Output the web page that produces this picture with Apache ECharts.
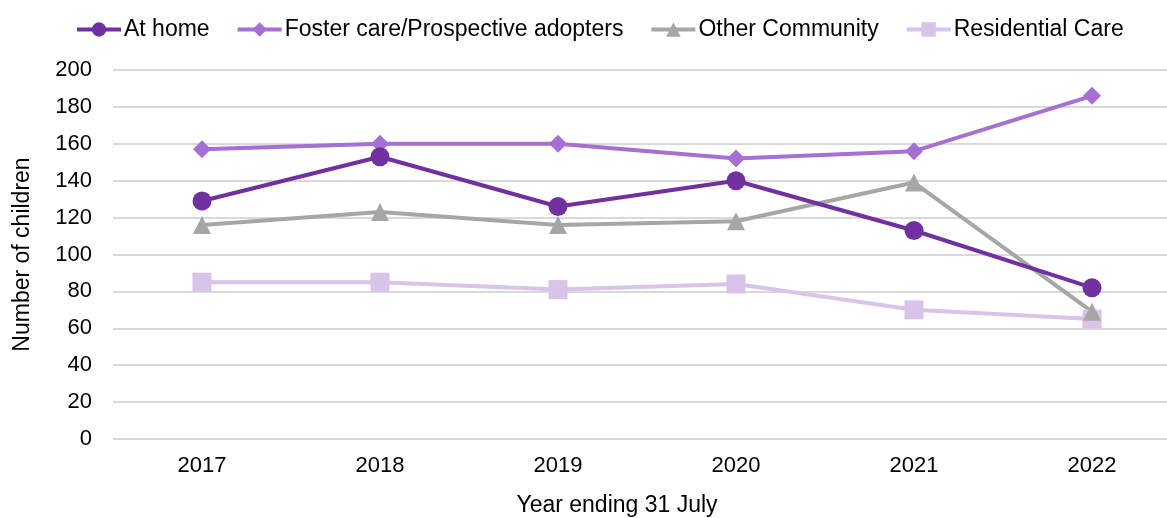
<!DOCTYPE html>
<html><head><meta charset="utf-8">
<script src="https://cdn.jsdelivr.net/npm/echarts@6/dist/echarts.min.js"></script>
<style>html,body{margin:0;padding:0;background:#fff}#c{width:1167px;height:518px}</style>
</head><body><div id="c"></div>
<script>
const categories = ['2017','2018','2019','2020','2021','2022'];
const atHome = [129, 153, 126, 140, 113, 82];
const foster = [157, 160, 160, 152, 156, 186];
const otherCommunity = [116, 123, 116, 118, 139, 69];
const residential = [85, 85, 81, 84, 70, 65];
const seriesNames = ['At home','Foster care/Prospective adopters','Other Community','Residential Care'];

const font = 'Liberation Sans, Arial, sans-serif';
function mk(name, data, color, symbol, size){
  return {name, type:'line', data, symbol, symbolSize:size,
    lineStyle:{color, width:4}, itemStyle:{color}, z: 2};
}
const chart = echarts.init(document.getElementById('c'));
chart.setOption({
  animation:false,
  textStyle:{fontFamily:font},
  legend:{top:13, left:70, itemWidth:44, itemHeight:18, itemGap:26,
    lineStyle:{width:4},
    textStyle:{fontSize:23, color:'#000', fontFamily:font, padding:[0,0,0,-2]}, data:seriesNames},
  grid:{left:113, width:1068, top:70, bottom:79, outerBoundsMode:'none', containLabel:false},
  xAxis:{type:'category', data:categories, boundaryGap:true,
    axisLine:{show:false}, axisTick:{show:false},
    axisLabel:{fontSize:22, color:'#000', margin:16},
    name:'Year ending 31 July', nameLocation:'middle', nameGap:55,
    nameTextStyle:{fontSize:23, color:'#000', padding:[0,60,0,0]}},
  yAxis:{type:'value', min:0, max:200, interval:20,
    axisLabel:{fontSize:22, color:'#000', margin:21},
    splitLine:{lineStyle:{color:'#d9d9d9', width:2}},
    name:'Number of children', nameLocation:'middle', nameGap:79,
    nameTextStyle:{fontSize:23, color:'#000'}},
  series:[
    mk(seriesNames[3], residential, '#D9C3E9', 'rect', 19),
    mk(seriesNames[2], otherCommunity, '#A6A6A6', 'triangle', 18),
    mk(seriesNames[1], foster, '#A66FD4', 'diamond', 18),
    mk(seriesNames[0], atHome, '#7030A0', 'circle', 19)
  ]
});
</script></body></html>
